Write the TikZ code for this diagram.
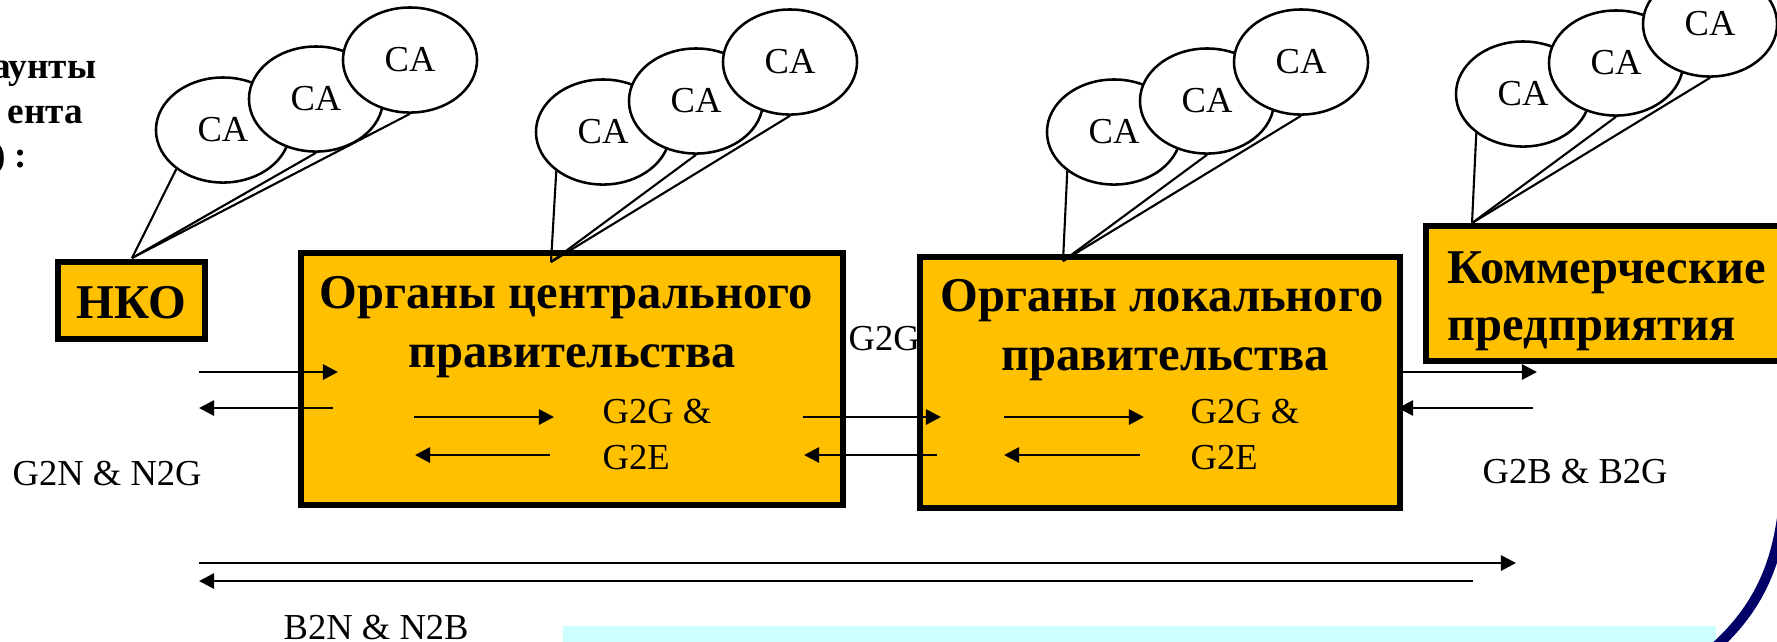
\documentclass[tikz,border=0pt]{standalone}
\usepackage{fontspec}
\setmainfont{Liberation Serif}
\usetikzlibrary{arrows.meta,shapes.geometric}
\definecolor{gold}{RGB}{255,192,0}
\definecolor{navyarc}{RGB}{0,0,102}
\definecolor{paleblue}{RGB}{204,255,255}
\pgfdeclarelayer{bg}
\pgfdeclarelayer{mid}
\pgfsetlayers{bg,mid,main}
\begin{document}
\begin{tikzpicture}[x=0.01cm,y=-0.01cm,
  box/.style={draw=black, line width=1.7pt, fill=gold, inner sep=0pt},
  ca/.style={ellipse, draw=black, line width=0.72pt, fill=white, minimum width=1.34cm, minimum height=1.05cm, inner sep=0pt, font=\fontsize{10.4}{12}\selectfont},
  tail/.style={line width=0.6pt},
  flow/.style={line width=0.78pt, -{Triangle[length=4.3pt,width=4.3pt]}},
  lbl/.style={font=\fontsize{10.4}{12.5}\selectfont, inner sep=0pt},
  ttl/.style={font=\bfseries\fontsize{13.8}{16.8}\selectfont, inner sep=0pt},
  corner/.style={font=\bfseries\fontsize{10.6}{13}\selectfont, inner sep=0pt}]
\useasboundingbox (0,0) rectangle (1777,641);
\clip (0,0) rectangle (1777,641);

% boxes
\begin{pgfonlayer}{bg}
\node[box, minimum width=1.47cm, minimum height=0.77cm] (nko) at (131.5,300.5) {};
\node[box, minimum width=5.42cm, minimum height=2.52cm] (cgov) at (572,379) {};
\node[box, minimum width=4.80cm, minimum height=2.51cm] (lgov) at (1160,382.5) {};
\node[box, minimum width=3.74cm, minimum height=1.35cm] (biz) at (1613,293.5) {};
\end{pgfonlayer}

% box texts
\node[ttl, anchor=base] (nkot) at (131.5,318) {НКО};
\node[ttl, anchor=base] (ct1) at (566,308) {Органы центрального};
\node[ttl, anchor=base] (ct2) at (572,367) {правительства};
\node[ttl, anchor=base] (lt1) at (1162,311) {Органы локального};
\node[ttl, anchor=base] (lt2) at (1165,370) {правительства};
\node[ttl, anchor=base west] (bt1) at (1447,283) {Коммерческие};
\node[ttl, anchor=base west] (bt2) at (1447,340) {предприятия};

% top-left clipped text
\node[corner, anchor=base east] (tl1) at (97,78) {аунты};
\node[corner, anchor=base east] (tl2) at (84,123) {ента};
\node[corner, anchor=base east] (tl3) at (28,167) {) :};

% CA callout groups
\foreach \g/\ax/\ay/\ex/\ey in {n/132/258/223/130, c/551/262/603/132, l/1063/261/1114/132, b/1472/223/1523/94}{
  \coordinate (apex\g) at (\ax,\ay);
  \node[ca] (\g e1) at (\ex,\ey) {CA};
  \node[ca] (\g e2) at (\ex+93,\ey-31) {CA};
  \node[ca] (\g e3) at (\ex+187,\ey-70) {CA};
  \begin{pgfonlayer}{mid}
  \draw[tail] (apex\g) -- (\g e1.220);
  \draw[tail] (apex\g) -- (\g e2.south);
  \draw[tail] (apex\g) -- (\g e3.south);
  \end{pgfonlayer}
}

% arrow end points
\coordinate (a1s) at (199,372);  \coordinate (a1e) at (338,372);
\coordinate (a2s) at (333,408);  \coordinate (a2e) at (199,408);
\coordinate (a3s) at (414,417);  \coordinate (a3e) at (554,417);
\coordinate (a4s) at (550,455);  \coordinate (a4e) at (415,455);
\coordinate (a5s) at (803,417);  \coordinate (a5e) at (941,417);
\coordinate (a6s) at (937,455);  \coordinate (a6e) at (804,455);
\coordinate (a7s) at (1004,417); \coordinate (a7e) at (1144,417);
\coordinate (a8s) at (1140,455); \coordinate (a8e) at (1004,455);
\coordinate (a9s) at (1398,372); \coordinate (a9e) at (1537,372);
\coordinate (a10s) at (1533,408); \coordinate (a10e) at (1398,408);
\coordinate (a11s) at (199,563); \coordinate (a11e) at (1516,563);
\coordinate (a12s) at (1473,581); \coordinate (a12e) at (199,581);
\foreach \i in {1,...,12}{\draw[flow] (a\i s) -- (a\i e);}

% labels
\node[lbl, anchor=base west] (g2gmid) at (848,350) {G2G};
\node[lbl, anchor=base west] (cg1) at (602,423) {G2G \&};
\node[lbl, anchor=base west] (cg2) at (602,469) {G2E};
\node[lbl, anchor=base west] (lg1) at (1190,423) {G2G \&};
\node[lbl, anchor=base west] (lg2) at (1190,469) {G2E};
\node[lbl, anchor=base west] (g2n) at (12,485) {G2N \& N2G};
\node[lbl, anchor=base west] (g2b) at (1482,483) {G2B \& B2G};
\node[lbl, anchor=base west] (b2n) at (283,639) {B2N \& N2B};

% bottom decoration
\fill[paleblue] (563,626) rectangle (1716,645);
\draw[navyarc, line width=2.85pt] (1783,510) .. controls (1776,570) and (1755,612) .. (1712,650);
\end{tikzpicture}
\end{document}
